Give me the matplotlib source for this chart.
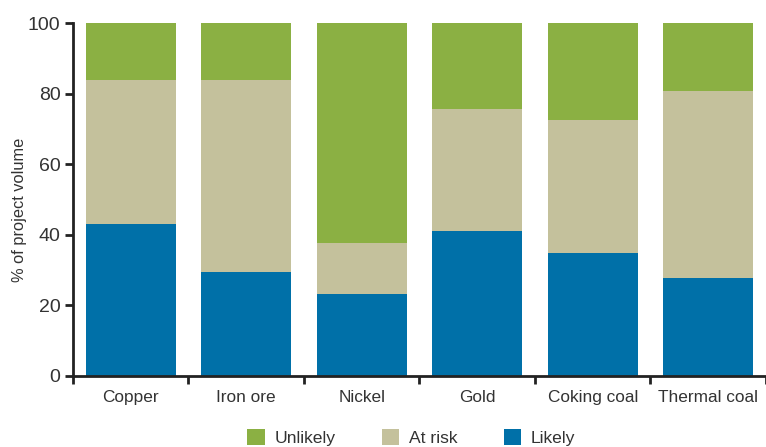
import numpy as np
import matplotlib
matplotlib.use("Agg")
import matplotlib.pyplot as plt
from matplotlib.patches import Patch

plt.rcParams['font.family'] = ['Liberation Sans', 'DejaVu Sans']

categories = ["Copper", "Iron ore", "Nickel", "Gold", "Coking coal", "Thermal coal"]
likely = [43.0, 29.5, 23.2, 41.1, 34.9, 27.7]
at_risk = [40.9, 54.4, 14.5, 34.6, 37.7, 53.1]
unlikely = [16.1, 16.1, 62.3, 24.3, 27.4, 19.2]

c_likely = "#0070A8"
c_risk = "#C4C19C"
c_unlikely = "#8BB043"
text_c = "#333333"
axis_c = "#222222"

fig = plt.figure(figsize=(7.66, 4.47), dpi=100)
ax = fig.add_axes([0.0953, 0.1595, 0.9047, 0.7884])

x = np.arange(len(categories))
w = 0.775
likely = np.array(likely)
at_risk = np.array(at_risk)
unlikely = np.array(unlikely)
ax.bar(x, likely, w, color=c_likely, linewidth=0)
ax.bar(x, at_risk, w, bottom=likely, color=c_risk, linewidth=0)
ax.bar(x, unlikely, w, bottom=likely + at_risk, color=c_unlikely, linewidth=0)

ax.set_xlim(-0.5, 5.5)
ax.set_ylim(0, 100)
ax.set_yticks([0, 20, 40, 60, 80, 100])

# ticks between categories, labels at centres
ax.set_xticks(np.arange(-0.5, 5.6, 1.0))
ax.set_xticklabels([])
ax.set_xticks(x, minor=True)
ax.set_xticklabels(categories, minor=True)
ax.tick_params(axis='x', which='major', direction='out', length=6, width=2, color=axis_c)
ax.tick_params(axis='x', which='minor', length=0, pad=10, labelsize=12.4, labelcolor=text_c)
ax.tick_params(axis='y', direction='out', length=6, width=2, color=axis_c,
               labelsize=14, labelcolor=text_c, pad=3)

for s in ['top', 'right']:
    ax.spines[s].set_visible(False)
for s in ['left', 'bottom']:
    ax.spines[s].set_linewidth(2)
    ax.spines[s].set_color(axis_c)

ax.set_ylabel("% of project volume", fontsize=11.8, color=text_c)
ax.yaxis.set_label_coords(-0.066, 0.47)

handles = [Patch(facecolor=c_unlikely, label="Unlikely"),
           Patch(facecolor=c_risk, label="At risk"),
           Patch(facecolor=c_likely, label="Likely")]
fig.legend(handles=handles, loc='lower center', bbox_to_anchor=(0.537, -0.033), ncol=3,
           frameon=False, fontsize=12.6, handlelength=1.0, handleheight=0.95,
           handletextpad=0.55, columnspacing=2.65, labelcolor=text_c)

fig.savefig("out.png", dpi=100)
